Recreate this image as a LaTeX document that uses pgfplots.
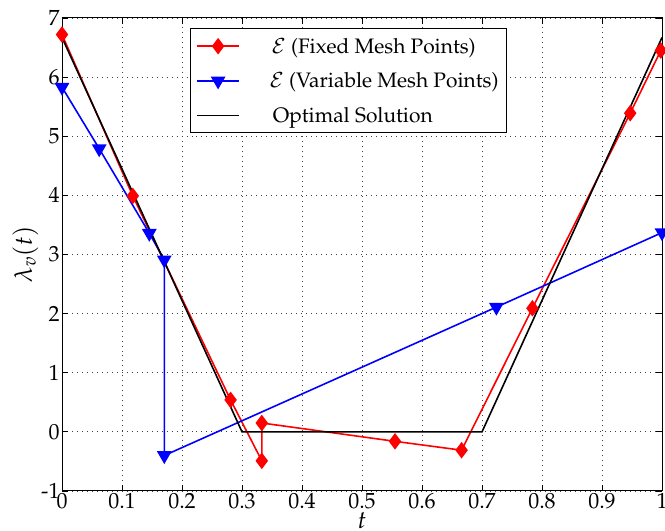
\documentclass[border=0pt]{standalone}
\usepackage[T1]{fontenc}
\usepackage{mathpazo}
\usepackage{pgfplots}
\pgfplotsset{compat=1.18}
\begin{document}
\begin{tikzpicture}
\begin{axis}[
  name=ax, scale only axis, width=600bp, height=473bp,
  xmin=0, xmax=1, ymin=-1, ymax=7,
  xtick={0,0.1,0.2,0.3,0.4,0.5,0.6,0.7,0.8,0.9,1},
  xticklabels={0,0.1,0.2,0.3,0.4,0.5,0.6,0.7,0.8,0.9,1},
  ytick={-1,0,1,2,3,4,5,6,7},
  yticklabels={-1,0,1,2,3,4,5,6,7},
  grid=major, major grid style={dash pattern=on 1pt off 4pt, black!75, line width=0.9pt},
  tick align=inside, major tick length=6bp,
  axis line style={line width=1pt},
  every tick/.style={black, line width=0.8pt},
  xlabel={$t$}, ylabel={$\lambda_v(t)$},
  ticklabel style={font=\fontsize{22}{22}\selectfont},
  label style={font=\fontsize{25}{25}\selectfont},
  xticklabel style={yshift=1bp},
  yticklabel style={xshift=1bp},
  xlabel style={yshift=4bp},
  ylabel style={yshift=-4bp},
  legend style={at={(rel axis cs:0.213,0.978)}, anchor=north west, draw=black, line width=1pt,
    font=\fontsize{21}{21}\selectfont, row sep=14bp, inner xsep=6bp, inner ysep=7bp},
  legend cell align=left,
  legend image code/.code={\draw[mark repeat=2,mark phase=2,#1] plot coordinates {(0bp,0bp) (21bp,0bp) (42bp,0bp)};},
]
\addplot[red, line width=1.6pt, mark=diamond*, mark size=7bp, mark options={solid, fill=red}] coordinates {
(0,6.72) (0.118,3.99) (0.281,0.54) (0.333,-0.49) (0.333,0.15) (0.555,-0.16) (0.666,-0.31) (0.784,2.09) (0.947,5.39) (0.998,6.45)};
\addlegendentry{\hspace{30bp}$\mathcal{E}$ (Fixed Mesh Points)}
\addplot[blue, line width=1.6pt, mark=triangle*, mark size=7bp, mark options={solid, fill=blue, rotate=180}] coordinates {
(0,5.83) (0.062,4.79) (0.1455,3.36) (0.1705,2.91) (0.1705,-0.40) (0.724,2.11) (1,3.37)};
\addlegendentry{\hspace{28bp}$\mathcal{E}$ (Variable Mesh Points)}
\addplot[black, line width=1.6pt] coordinates {(0,6.67) (0.3,0) (0.7,0) (1,6.67)};
\addlegendentry{\hspace{31bp}Optimal Solution}
\end{axis}
\pgfresetboundingbox
\useasboundingbox ([xshift=-62bp,yshift=-40bp]ax.south west) rectangle ([xshift=3bp,yshift=18bp]ax.north east);
\end{tikzpicture}
\end{document}
